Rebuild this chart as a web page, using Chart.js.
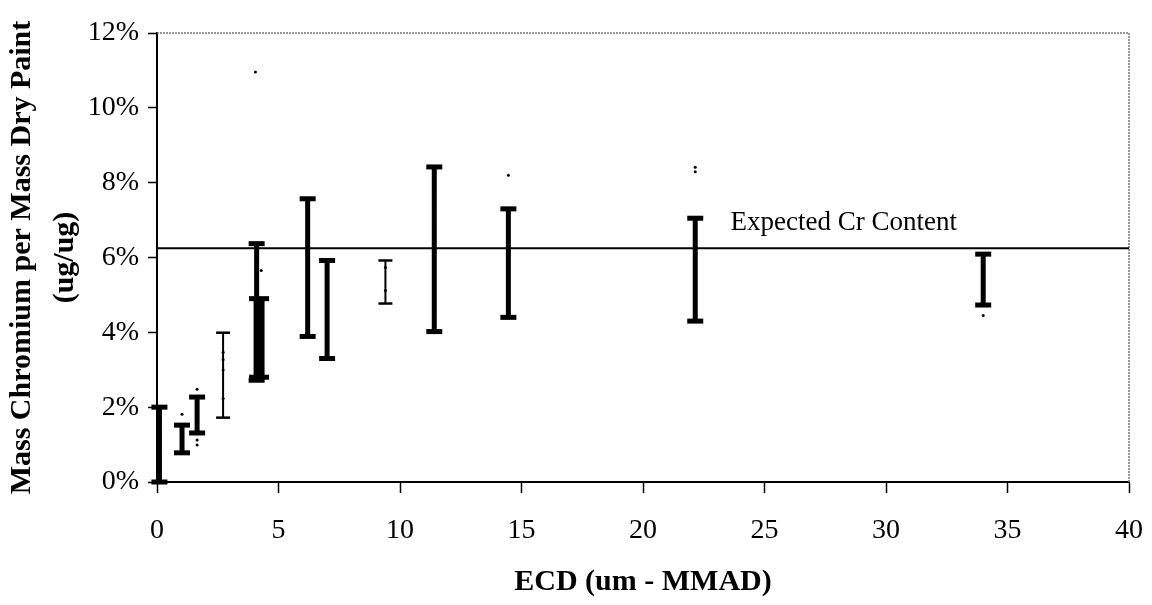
<!DOCTYPE html>
<html lang="en">
<head>
  <meta charset="UTF-8">
  <title>Mass Chromium per Mass Dry Paint vs ECD</title>
  <script src="https://cdn.jsdelivr.net/npm/chart.js"></script>
  <style>
    body { margin: 0; background: white; }
    canvas { display: block; }
  </style>
</head>
<body>
<canvas id="grafica" width="1152" height="605"></canvas>

<script>
// heavy error bars (range of Cr fraction, %)
const heavyEcd  = [0.1, 1.03, 1.65, 4.1, 6.2, 7.0, 11.41, 14.46, 22.15, 34.0];
const heavyLow  = [0, 0.78, 1.31, 2.72, 3.89, 3.3, 4.02, 4.4, 4.3, 4.73];
const heavyHigh = [2.0, 1.52, 2.27, 6.37, 7.57, 5.92, 8.42, 7.3, 7.05, 6.09];

// overlapping samples around 4 um (drawn as a block)
const blockEcd  = [4.2];
const blockLow  = [2.8];
const blockHigh = [4.9];

// light error bars
const lightEcd  = [2.72, 9.4];
const lightLow  = [1.72, 4.77];
const lightHigh = [3.99, 5.92];

// individual readings
const dotEcd = [4.05, 4.29, 1.03, 1.65, 1.65, 1.65, 2.72, 2.72, 2.72, 2.72, 9.4, 9.4, 14.46, 22.15, 22.15, 34.0];
const dotVal = [10.96, 5.65, 1.81, 2.48, 1.12, 0.99, 3.47, 3.27, 2.99, 2.23, 5.73, 5.12, 8.2, 8.41, 8.29, 4.45];

const expectedCr = 6.25;
const expectedLabel = "Expected Cr Content";
const xTicks = [0, 40, 5];   // min, max, step
const yTicks = [0, 12, 2];

const serif = "'Liberation Serif', 'Times New Roman', serif";

function barras(ecd, low, high) {
  const pts = [];
  ecd.forEach((x, i) => {
    pts.push({ x: x, y: low[i] }, { x: x, y: high[i] }, { x: x, y: null });
  });
  return pts;
}

function datasetBarras(ecd, low, high, ancho, capRadio, capAncho) {
  return {
    data: barras(ecd, low, high),
    showLine: true,
    spanGaps: false,
    borderColor: "#000",
    borderWidth: ancho,
    pointStyle: "line",
    pointRadius: capRadio,
    pointBorderWidth: capAncho,
    pointBorderColor: "#000",
    pointBackgroundColor: "#000",
    clip: 12
  };
}

const etiquetaEsperado = {
  id: "etiquetaEsperado",
  afterDatasetsDraw(chart) {
    const ctx = chart.ctx;
    const xs = chart.scales.x, ys = chart.scales.y;
    ctx.save();
    ctx.font = "27px " + serif;
    ctx.fillStyle = "#000";
    ctx.textAlign = "left";
    ctx.textBaseline = "alphabetic";
    ctx.fillText(expectedLabel, xs.getPixelForValue(23.6), ys.getPixelForValue(expectedCr) - 18);
    ctx.restore();
  }
};

const marco = {
  id: "marco",
  beforeDatasetsDraw(chart) {
    const { ctx, chartArea: a } = chart;
    ctx.save();
    ctx.strokeStyle = "#777";
    ctx.lineWidth = 1.5;
    ctx.setLineDash([2, 1]);
    ctx.beginPath();
    ctx.moveTo(a.left, a.top);
    ctx.lineTo(a.right, a.top);
    ctx.lineTo(a.right, a.bottom);
    ctx.stroke();
    ctx.restore();
  }
};

new Chart(document.getElementById("grafica"), {
  type: "scatter",
  data: {
    datasets: [
      {
        data: [{ x: xTicks[0], y: expectedCr }, { x: xTicks[1], y: expectedCr }],
        showLine: true,
        borderColor: "#000",
        borderWidth: 2,
        pointRadius: 0
      },
      datasetBarras(heavyEcd, heavyLow, heavyHigh, 5, 8, 5),
      datasetBarras(blockEcd, blockLow, blockHigh, 11, 10, 5),
      datasetBarras(lightEcd, lightLow, lightHigh, 2, 7, 2.5),
      {
        data: dotEcd.map((x, i) => ({ x: x, y: dotVal[i] })),
        pointRadius: 1.5,
        pointBackgroundColor: "#000",
        pointBorderColor: "#000",
        pointBorderWidth: 0
      }
    ]
  },
  options: {
    responsive: false,
    animation: false,
    events: [],
    layout: { padding: { top: 33, right: 23, bottom: 0, left: 0 } },
    plugins: { legend: { display: false }, tooltip: { enabled: false } },
    scales: {
      x: {
        type: "linear",
        min: xTicks[0], max: xTicks[1],
        afterFit: s => { s.height = 123; s.paddingRight = 0; s.paddingLeft = 0; },
        border: { color: "#000", width: 2 },
        grid: { drawOnChartArea: false, tickLength: 11, tickColor: "#000", tickWidth: 1.5 },
        ticks: { stepSize: xTicks[2], color: "#000", padding: 21, font: { family: serif, size: 28 } },
        title: {
          display: true,
          text: "ECD (um - MMAD)",
          color: "#000",
          font: { family: serif, size: 30, weight: "bold", lineHeight: 1.2 },
          padding: { top: 0, bottom: 5 }
        }
      },
      y: {
        type: "linear",
        min: yTicks[0], max: yTicks[1],
        afterFit: s => { s.width = 157; s.paddingTop = 0; s.paddingBottom = 0; },
        border: { color: "#000", width: 2 },
        grid: { drawOnChartArea: false, tickLength: 9, tickColor: "#000", tickWidth: 1.5 },
        ticks: {
          stepSize: yTicks[2], color: "#000", padding: 9,
          font: { family: serif, size: 28 },
          callback: v => v + "%"
        },
        title: {
          display: true,
          text: ["Mass Chromium per Mass Dry Paint", "(ug/ug)"],
          color: "#000",
          font: { family: serif, size: 30, weight: "bold", lineHeight: 1.45 },
          padding: { top: 0, bottom: 0 }
        }
      }
    }
  },
  plugins: [marco, etiquetaEsperado]
});
</script>
</body>
</html>
